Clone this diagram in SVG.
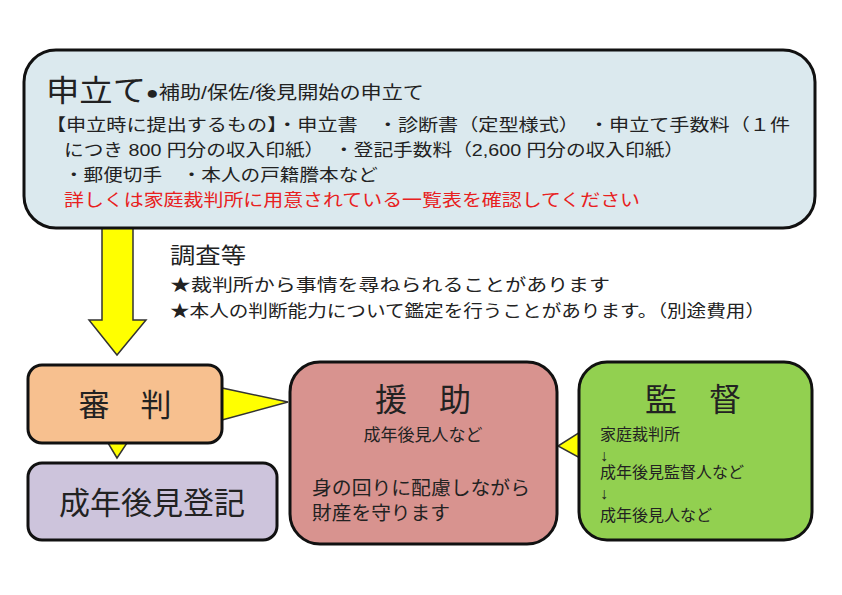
<svg xmlns="http://www.w3.org/2000/svg" width="842" height="595" viewBox="0 0 842 595">
<style>
text{font-family:"Liberation Sans","Noto Sans CJK JP",sans-serif;fill:#222}
.box{stroke:#111;stroke-width:3}
.y{fill:#ffff00;stroke:#333;stroke-width:1.5}
.s{font-size:17px}
</style>
<rect width="842" height="595" fill="#fff"/>
<g id="connectors">
<polygon class="y" points="102,228 133,228 133,320 146,320 117,355 89,320 102,320"/>
<polygon class="y" points="108,443 127,443 117,458"/>
<polygon class="y" points="222,388 222,420 288,402"/>
<polygon class="y" points="580,432 580,458 558,446"/>
</g>
<g id="moushitate">
<rect class="box" x="24" y="50" width="791" height="178" rx="32" fill="#dbe9ee"/>
<text x="46" y="101" font-size="30" textLength="100" lengthAdjust="spacingAndGlyphs">申立て</text>
<text x="146" y="99" font-size="18" textLength="278" lengthAdjust="spacingAndGlyphs">●補助/保佐/後見開始の申立て</text>
<text x="46" y="131" class="s" textLength="744" lengthAdjust="spacingAndGlyphs">【申立時に提出するもの】・申立書　・診断書（定型様式）　・申立て手数料（１件</text>
<text x="64" y="156" class="s" textLength="620" lengthAdjust="spacingAndGlyphs">につき 800 円分の収入印紙）　・登記手数料（2,600 円分の収入印紙）</text>
<text x="64" y="181" class="s" textLength="314" lengthAdjust="spacingAndGlyphs">・郵便切手　・本人の戸籍謄本など</text>
<text x="64" y="206" class="s" style="fill:#e82020" textLength="576" lengthAdjust="spacingAndGlyphs">詳しくは家庭裁判所に用意されている一覧表を確認してください</text>
</g>
<g id="chousa">
<text x="170" y="263" font-size="22" textLength="76" lengthAdjust="spacingAndGlyphs">調査等</text>
<text x="170" y="291" class="s" textLength="440" lengthAdjust="spacingAndGlyphs">★裁判所から事情を尋ねられることがあります</text>
<text x="170" y="317" class="s" textLength="595" lengthAdjust="spacingAndGlyphs">★本人の判断能力について鑑定を行うことがあります。（別途費用）</text>
</g>
<g id="shinpan">
<rect class="box" x="28" y="365" width="194" height="78" rx="14" fill="#f7c08f"/>
<text x="125" y="416" font-size="31" text-anchor="middle">審　判</text>
</g>
<g id="touki">
<rect class="box" x="28" y="463" width="249" height="77" rx="14" fill="#cdc4dc"/>
<text x="152" y="514" font-size="31" text-anchor="middle">成年後見登記</text>
</g>
<g id="enjo">
<rect class="box" x="290" y="362" width="267" height="182" rx="30" fill="#d8938f"/>
<text x="423" y="411" font-size="32" text-anchor="middle">援　助</text>
<text x="423" y="441" font-size="17" text-anchor="middle">成年後見人など</text>
<text x="312" y="495" font-size="19" textLength="218" lengthAdjust="spacingAndGlyphs">身の回りに配慮しながら</text>
<text x="312" y="520" font-size="19" textLength="138" lengthAdjust="spacingAndGlyphs">財産を守ります</text>
</g>
<g id="kantoku">
<rect class="box" x="579" y="362" width="233" height="178" rx="28" fill="#92d050"/>
<text x="693" y="411" font-size="32" text-anchor="middle">監　督</text>
<text x="600" y="440" font-size="16">家庭裁判所</text>
<text x="600" y="461" font-size="16">↓</text>
<text x="600" y="478" font-size="16">成年後見監督人など</text>
<text x="600" y="499" font-size="16">↓</text>
<text x="600" y="521" font-size="16">成年後見人など</text>
</g>
</svg>
